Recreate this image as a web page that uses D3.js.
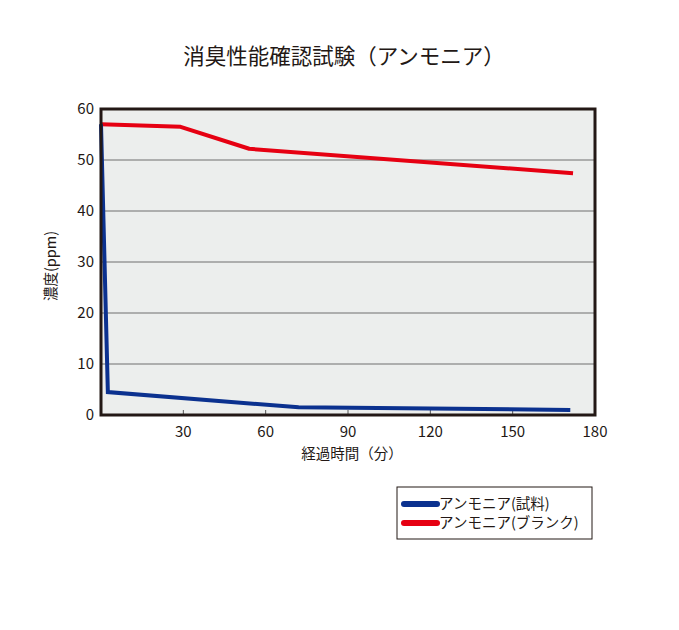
<!DOCTYPE html>
<html>
<head>
<meta charset="utf-8">
<script src="https://cdn.jsdelivr.net/npm/d3@7"></script>
<style>
body { margin: 0; background: #fff; }
text { font-family: "Noto Sans CJK JP", sans-serif; fill: #231815; }
</style>
</head>
<body>
<svg id="chart"></svg>
<script>
var title = "消臭性能確認試験（アンモニア）";
var xTicks = [30, 60, 90, 120, 150, 180];
var yTicks = [0, 10, 20, 30, 40, 50, 60];
var sampleTimes = [0, 2.5, 72, 171];
var sampleValues = [57, 4.5, 1.5, 1.0];
var blankTimes = [0, 29, 54, 172];
var blankValues = [57, 56.5, 52.2, 47.4];
var seriesNames = ["アンモニア(試料)", "アンモニア(ブランク)"];

var colors = {
	"sample" : "#0b318f",
	"blank" : "#e60012"
};

var w = 679, h = 630;
var svg = d3.select("#chart").attr("width", w).attr("height", h);

var plotLeft = 101, plotRight = 595, plotTop = 109, plotBottom = 415;
var x = d3.scaleLinear().domain([0, 180]).range([plotLeft, plotRight]);
var y = d3.scaleLinear().domain([0, 60]).range([plotBottom, plotTop]);

// plot background
svg.append("rect")
	.attr("x", plotLeft).attr("y", plotTop)
	.attr("width", plotRight - plotLeft).attr("height", plotBottom - plotTop)
	.style("fill", "#eceeed");

// grid lines
svg.selectAll(".grid")
	.data(yTicks.filter(function(d) { return d > 0 && d < 60; }))
	.enter().append("line")
	.attr("x1", plotLeft).attr("x2", plotRight)
	.attr("y1", function(d) { return y(d); })
	.attr("y2", function(d) { return y(d); })
	.style("stroke", "#6e6e6e")
	.style("stroke-width", 1);

// inner x ticks
svg.selectAll(".xtick")
	.data(xTicks.filter(function(d) { return d < 180; }))
	.enter().append("line")
	.attr("x1", function(d) { return x(d); })
	.attr("x2", function(d) { return x(d); })
	.attr("y1", plotBottom).attr("y2", plotBottom - 5)
	.style("stroke", "#555")
	.style("stroke-width", 1);

// lines
var line = d3.line()
	.x(function(d) { return x(d[0]); })
	.y(function(d) { return y(d[1]); });

svg.append("path")
	.datum(d3.zip(blankTimes, blankValues))
	.attr("d", line)
	.style("fill", "none")
	.style("stroke", colors.blank)
	.style("stroke-width", 4)
	.style("stroke-linejoin", "round");

svg.append("path")
	.datum(d3.zip(sampleTimes, sampleValues))
	.attr("d", line)
	.style("fill", "none")
	.style("stroke", colors.sample)
	.style("stroke-width", 4)
	.style("stroke-linejoin", "miter");

// frame
svg.append("rect")
	.attr("x", plotLeft).attr("y", plotTop)
	.attr("width", plotRight - plotLeft).attr("height", plotBottom - plotTop)
	.style("fill", "none")
	.style("stroke", "#231815")
	.style("stroke-width", 3);

// tick labels
svg.selectAll(".ylab")
	.data(yTicks)
	.enter().append("text")
	.attr("x", 94)
	.attr("y", function(d) { return y(d); })
	.attr("dy", "0.35em")
	.attr("text-anchor", "end")
	.attr("font-size", "15px")
	.text(function(d) { return d; });

svg.selectAll(".xlab")
	.data(xTicks)
	.enter().append("text")
	.attr("x", function(d) { return x(d); })
	.attr("y", 437)
	.attr("text-anchor", "middle")
	.attr("font-size", "15px")
	.text(function(d) { return d; });

// titles
svg.append("text")
	.attr("x", 344).attr("y", 64)
	.attr("text-anchor", "middle")
	.attr("font-size", "21.5px")
	.text(title);

svg.append("text")
	.attr("x", 352).attr("y", 459)
	.attr("text-anchor", "middle")
	.attr("font-size", "14.5px")
	.text("経過時間（分）");

svg.append("text")
	.attr("transform", "translate(56,266) rotate(-90)")
	.attr("text-anchor", "middle")
	.attr("font-size", "14.5px")
	.text("濃度(ppm)");

// legend
var legend = svg.append("g");
legend.append("rect")
	.attr("x", 397).attr("y", 487)
	.attr("width", 195).attr("height", 52)
	.style("fill", "#fff")
	.style("stroke", "#231815")
	.style("stroke-width", 1);

var legendColors = [colors.sample, colors.blank];
seriesNames.forEach(function(name, i) {
	var ly = 504 + i * 19;
	legend.append("line")
		.attr("x1", 404).attr("x2", 437)
		.attr("y1", ly).attr("y2", ly)
		.style("stroke", legendColors[i])
		.style("stroke-width", 6)
		.style("stroke-linecap", "round");
	legend.append("text")
		.attr("x", 439).attr("y", ly)
		.attr("dy", "0.35em")
		.attr("font-size", "14.5px")
		.text(name);
});
</script>
</body>
</html>
